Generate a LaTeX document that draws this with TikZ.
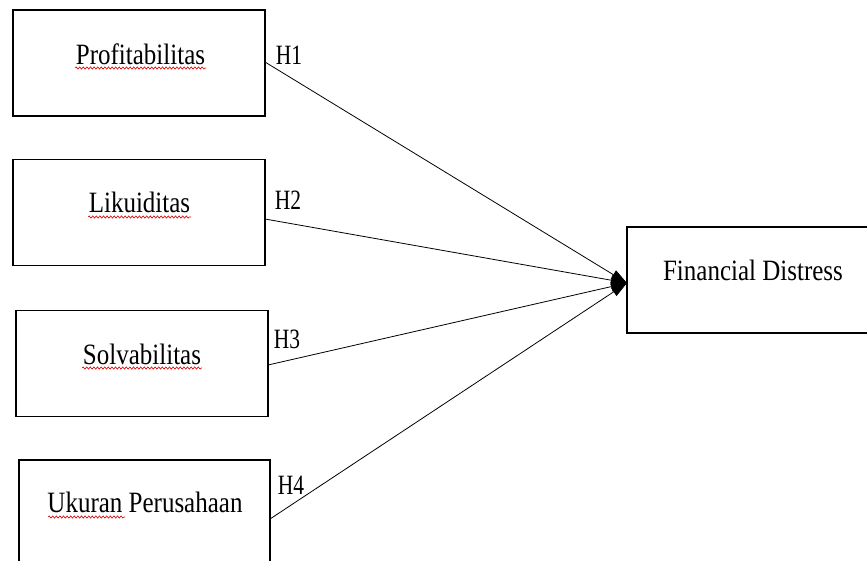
\documentclass[tikz,border=0pt]{standalone}
\usepackage{fontspec}
\setmainfont{Liberation Serif}
\usetikzlibrary{arrows.meta,decorations.pathmorphing}
\newcommand{\tallA}[1]{\scalebox{1}[1.18]{#1}}
\newcommand{\tallB}[1]{\scalebox{1}[1.3]{#1}}
\begin{document}
\begin{tikzpicture}[x=1pt,y=-1pt,
  box/.style={draw=black,line width=1.6pt,rectangle,inner sep=0pt},
  lbl/.style={font=\fontsize{25}{28}\selectfont,inner sep=0pt,anchor=center},
  hlbl/.style={font=\fontsize{21.5}{26}\selectfont,inner sep=0pt,anchor=center},
  conn/.style={draw=black,line width=0.8pt,-{Triangle[length=16pt,width=10pt]}},
  wavy/.style={draw=red!85!black,line width=0.6pt,decorate,decoration={snake,amplitude=1.1pt,segment length=3.6pt}}
]
\useasboundingbox (0,0) rectangle (867,560);
\fill[white] (0,0) rectangle (867,560);
% boxes
\node[box,minimum width=252pt,minimum height=106pt] (p) at (139,63) {};
\node[box,minimum width=252pt,minimum height=106pt] (l) at (139,212.5) {};
\node[box,minimum width=252pt,minimum height=106pt] (s) at (142,363.5) {};
\node[box,minimum width=251pt,minimum height=110pt] (u) at (144.5,515) {};
\node[box,minimum width=242pt,minimum height=106pt] (f) at (748,280) {};
% texts
\node[lbl] (tp) at (140.5,54) {\tallA{Profitabilitas}};
\node[lbl] (tl) at (139.5,202) {\tallA{Likuiditas}};
\node[lbl] (ts) at (142,354) {\tallA{Solvabilitas}};
\node[lbl] (tu) at (145,502) {\tallA{Ukuran Perusahaan}};
\node[lbl] (tf) at (753,270) {\tallA{Financial Distress}};
% spell-check underlines
\draw[wavy] (75,68) -- (206,68);
\draw[wavy] (88,217) -- (191,217);
\draw[wavy] (82,368) -- (202,368);
\draw[wavy] (48,517) -- (125,517);
% connectors
\coordinate (tip) at (627,283);
\coordinate (a1) at (265,62);
\coordinate (a2) at (265,219);
\coordinate (a3) at (268,365);
\coordinate (a4) at (270,519);
\draw[conn] (a1) -- (tip);
\draw[conn] (a2) -- (tip);
\draw[conn] (a3) -- (tip);
\draw[conn] (a4) -- (tip);
% hypothesis labels
\node[hlbl] (h1) at (289,55) {\tallB{H1}};
\node[hlbl] (h2) at (288,200) {\tallB{H2}};
\node[hlbl] (h3) at (287,339) {\tallB{H3}};
\node[hlbl] (h4) at (291,485) {\tallB{H4}};
\end{tikzpicture}
\end{document}
